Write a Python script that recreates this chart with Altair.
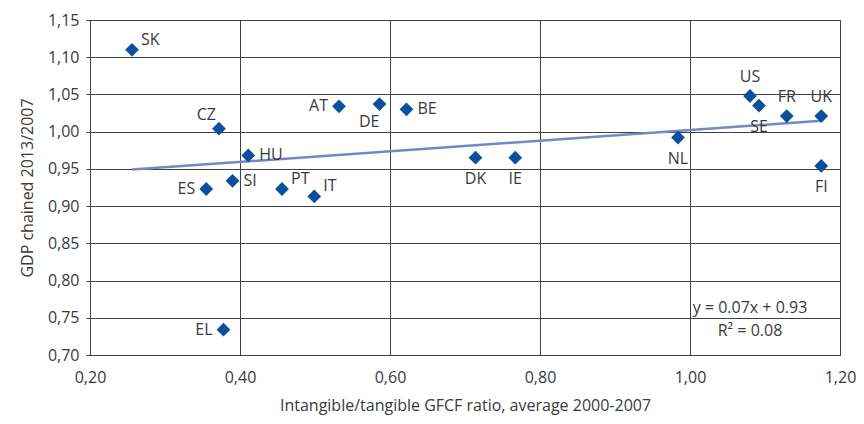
import altair as alt
import pandas as pd

countries = ["SK", "CZ", "AT", "DE", "BE", "HU", "DK", "ES", "SI", "PT", "IT", "EL",
             "IE", "NL", "US", "SE", "FR", "UK", "FI"]
ratio = [0.256, 0.372, 0.532, 0.586, 0.622, 0.411, 0.714, 0.355, 0.390, 0.456, 0.499, 0.378,
         0.767, 0.984, 1.080, 1.092, 1.129, 1.175, 1.175]
gdp = [1.110, 1.004, 1.034, 1.037, 1.030, 0.968, 0.965, 0.923, 0.934, 0.923, 0.913, 0.734,
       0.965, 0.992, 1.048, 1.035, 1.021, 1.021, 0.954]
# label placement category for each point
place = ["ur", "ul", "l", "bl", "r", "r", "b", "l", "r", "ur", "ur", "l",
         "b", "b", "a", "b", "a", "a", "b"]

x_ticks = [0.2, 0.4, 0.6, 0.8, 1.0, 1.2]
y_ticks = [0.7, 0.75, 0.8, 0.85, 0.9, 0.95, 1.0, 1.05, 1.1, 1.15]

eq_lines = ["y = 0.07x + 0.93", "R² = 0.08"]
eq_x = [1.08, 1.08]
eq_y = [0.763, 0.732]

df = pd.DataFrame({"country": countries, "ratio": ratio, "gdp": gdp, "place": place})
eq_df = pd.DataFrame({"t": eq_lines, "ratio": eq_x, "gdp": eq_y})

FONT = "Open Sans"
TXT = "#3a3a3a"
GRID = "#404040"

xscale = alt.Scale(domain=[0.2, 1.2], nice=False, zero=False)
yscale = alt.Scale(domain=[0.7, 1.15], nice=False, zero=False)

xenc = alt.X("ratio:Q", scale=xscale,
             axis=alt.Axis(values=x_ticks,
                           labelExpr="replace(format(datum.value, '.2f'), '.', ',')",
                           title="Intangible/tangible GFCF ratio, average 2000-2007",
                           ticks=False, labelPadding=14, titlePadding=12,
                           labelFlush=False, labelOverlap=False,
                           gridColor=GRID, domainColor=GRID,
                           labelFont=FONT, titleFont=FONT, labelFontSize=16, titleFontSize=16,
                           labelColor=TXT, titleColor=TXT, titleFontWeight="normal"))
yenc = alt.Y("gdp:Q", scale=yscale,
             axis=alt.Axis(values=y_ticks,
                           labelExpr="replace(format(datum.value, '.2f'), '.', ',')",
                           title="GDP chained 2013/2007",
                           tickSize=4, tickColor=GRID, labelPadding=7, titlePadding=12,
                           labelFlush=False, labelOverlap=False,
                           gridColor=GRID, domainColor=GRID,
                           labelFont=FONT, titleFont=FONT, labelFontSize=16, titleFontSize=16,
                           labelColor=TXT, titleColor=TXT, titleFontWeight="normal"))

base = alt.Chart(df)

trend = base.transform_regression("ratio", "gdp").mark_line(
    color="#7288C8", strokeWidth=2.5
).encode(x=xenc, y=yenc)

points = base.mark_point(shape="diamond", filled=True, size=190, color="#0B4F9F", opacity=1).encode(
    x=xenc, y=yenc
)

offsets = {
    "ur": dict(align="left", dx=9, dy=-10),
    "ul": dict(align="right", dx=-3, dy=-14),
    "l": dict(align="right", dx=-11, dy=0),
    "bl": dict(align="right", dx=0, dy=18),
    "r": dict(align="left", dx=11, dy=0),
    "b": dict(align="center", dx=0, dy=21),
    "a": dict(align="center", dx=0, dy=-19),
}

labels = []
for key, o in offsets.items():
    labels.append(
        base.transform_filter(alt.datum.place == key).mark_text(
            font=FONT, fontSize=16, color=TXT, baseline="middle", **o
        ).encode(x=xenc, y=yenc, text="country:N")
    )

eq = alt.Chart(eq_df).mark_text(font=FONT, fontSize=16, color=TXT, baseline="middle", align="center").encode(
    x=xenc, y=yenc, text="t:N"
)

chart = alt.layer(trend, points, *labels, eq).properties(
    width=750, height=335,
    autosize=alt.AutoSizeParams(type="none"),
    padding={"left": 82, "top": 12, "right": 16, "bottom": 61},
).configure_view(stroke=GRID, strokeWidth=1).configure_axis(grid=True, gridWidth=1, domainWidth=1)

chart.save("out.html", embed_options={"renderer": "svg", "actions": False})
